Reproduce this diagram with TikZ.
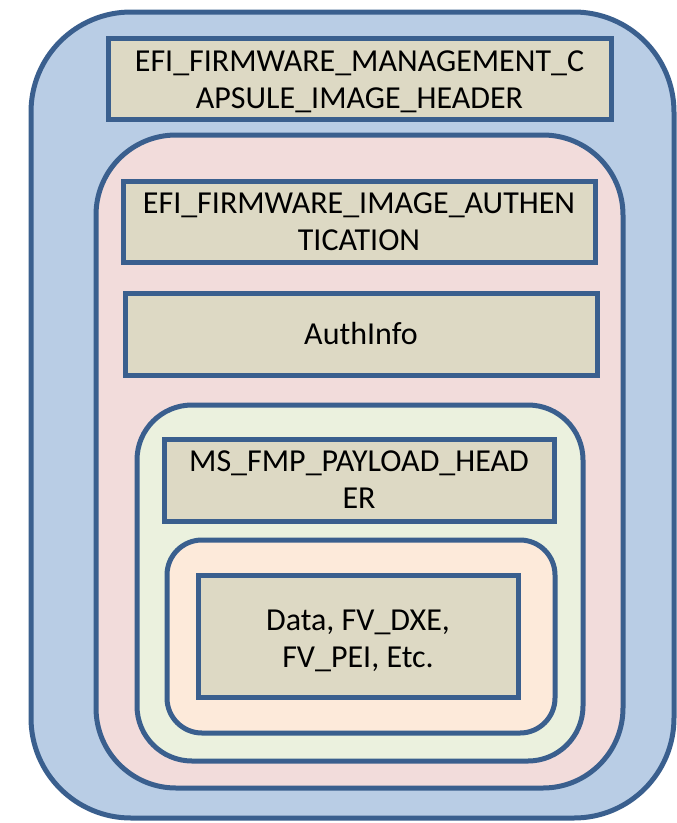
\documentclass[tikz,border=0pt]{standalone}
\usepackage{fontspec}
\setmainfont{Carlito}
\definecolor{edge}{HTML}{3A5F8E}
\definecolor{bluef}{HTML}{B9CDE5}
\definecolor{pinkf}{HTML}{F2DCDB}
\definecolor{greenf}{HTML}{EBF1DE}
\definecolor{peachf}{HTML}{FDEADA}
\definecolor{tanf}{HTML}{DDD9C4}
\begin{document}
\begin{tikzpicture}[x=1pt,y=-1pt,
  frame/.style={draw=edge,line width=5pt,inner sep=0pt,outer sep=0pt},
  txt/.style={align=center,inner sep=0pt,font=\fontsize{32}{37}\selectfont},
  label/.style={frame,fill=tanf,txt},
]
\useasboundingbox (0,0) rectangle (677,823);
\node[frame,fill=bluef,rounded corners=100pt,minimum width=643pt,minimum height=806pt] (outer) at (352.5,415) {};
\node[label,minimum width=503pt,minimum height=81pt] (capsule) at (359.5,78.5) {};
\node[txt] (capsuletext) at (359.5,81.5) {EFI\_FIRMWARE\_MANAGEMENT\_C\\APSULE\_IMAGE\_HEADER};
\node[frame,fill=pinkf,rounded corners=80pt,minimum width=527pt,minimum height=653pt] (auth) at (359.5,461.5) {};
\node[label,minimum width=472pt,minimum height=81pt] (authhdr) at (359,221.5) {EFI\_FIRMWARE\_IMAGE\_AUTHEN\\TICATION};
\node[label,minimum width=472pt,minimum height=82pt] (authinfo) at (361,334) {AuthInfo};
\node[frame,fill=greenf,rounded corners=55pt,minimum width=446pt,minimum height=356pt] (payload) at (360,583) {};
\node[label,minimum width=390pt,minimum height=82pt] (mshdr) at (359,480) {MS\_FMP\_PAYLOAD\_HEAD\\ER};
\node[frame,fill=peachf,rounded corners=35pt,minimum width=388pt,minimum height=193pt] (body) at (361,636.5) {};
\node[label,minimum width=320pt,minimum height=122pt] (data) at (358,636) {};
\node[txt] (datatext) at (358,641) {Data, FV\_DXE,\\FV\_PEI, Etc.};
\end{tikzpicture}
\end{document}
